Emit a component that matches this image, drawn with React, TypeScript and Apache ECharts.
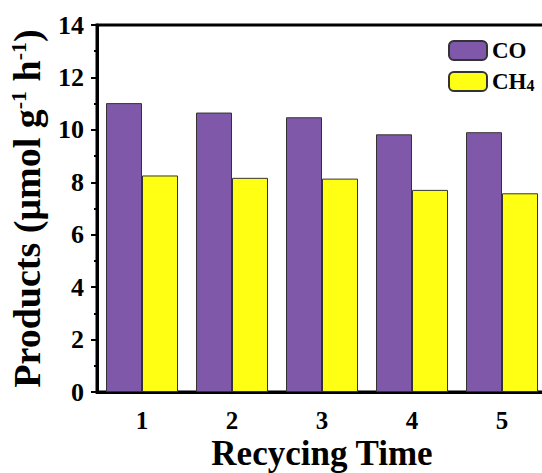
import React, { useEffect, useRef } from "react";
import * as echarts from "echarts";

const categories = ["1", "2", "3", "4", "5"];
const coValues = [11.02, 10.66, 10.48, 9.83, 9.91];
const ch4Values = [8.26, 8.17, 8.14, 7.71, 7.58];
const seriesNames = ["CO", "CH4"];

const FONT = "'Liberation Serif', 'Times New Roman', serif";

export default function App() {
  const ref = useRef<HTMLDivElement>(null);
  useEffect(() => {
    if (!ref.current) return;
    const chart = echarts.init(ref.current, null, { renderer: "svg" });
    chart.setOption({
      animation: false,
      textStyle: { fontFamily: FONT },
      grid: {
        left: 97,
        right: 13,
        top: 25,
        bottom: 81,
        containLabel: false,
        outerBoundsMode: "none",
        show: true,
        borderColor: "#000",
        borderWidth: 3,
      },
      legend: {
        orient: "vertical",
        left: 443,
        top: 34,
        itemWidth: 38,
        itemHeight: 19,
        itemGap: 8,
        data: seriesNames,
        formatter: (n: string) => (n === "CH4" ? "{a|CH}{s|4}" : "{a|CO}"),
        textStyle: {
          fontFamily: FONT,
          rich: {
            a: { fontSize: 23, lineHeight: 24, fontWeight: "bold", fontFamily: FONT, color: "#000" },
            s: { fontSize: 16, lineHeight: 14, fontWeight: "bold", fontFamily: FONT, color: "#000", verticalAlign: "bottom" },
          },
        },
      },
      xAxis: [
        {
          type: "category",
          data: categories,
          name: "Recycing Time",
          nameLocation: "middle",
          nameGap: 44,
          nameMoveOverlap: false,
          nameTextStyle: { fontSize: 35, fontWeight: "bold", color: "#000", fontFamily: FONT },
          axisLine: { lineStyle: { color: "#000", width: 3 } },
          axisTick: { alignWithLabel: true, length: 6, lineStyle: { width: 2, color: "#000" } },
          axisLabel: { fontSize: 25, fontWeight: "bold", color: "#000", margin: 16, fontFamily: FONT },
        },
        {
          type: "category",
          data: categories,
          position: "bottom",
          axisLine: { show: false },
          axisTick: { length: 3, lineStyle: { width: 2, color: "#000" } },
          axisLabel: { show: false },
        },
      ],
      yAxis: {
        type: "value",
        min: 0,
        max: 14,
        interval: 2,
        name: "{a|Products (μmol g}{s|-1}{a| h}{s|-1}{a|)}",
        nameLocation: "middle",
        nameGap: 50,
        nameMoveOverlap: false,
        nameRotate: 90,
        nameTextStyle: {
          fontFamily: FONT,
          rich: {
            a: { fontSize: 38, lineHeight: 40, fontWeight: "bold", color: "#000", fontFamily: FONT },
            s: { fontSize: 22, lineHeight: 22, fontWeight: "bold", color: "#000", fontFamily: FONT, verticalAlign: "top" },
          },
        },
        splitLine: { show: false },
        axisLine: { show: true, lineStyle: { color: "#000", width: 3 } },
        axisTick: { show: true, length: 6, lineStyle: { width: 2, color: "#000" } },
        minorTick: { show: true, splitNumber: 2, length: 3, lineStyle: { width: 2, color: "#000" } },
        axisLabel: { fontSize: 26, fontWeight: "bold", color: "#000", margin: 13, fontFamily: FONT },
      },
      series: [
        {
          name: seriesNames[0],
          type: "bar",
          data: coValues,
          barCategoryGap: "20%",
          barGap: "0%",
          itemStyle: { color: "#7F58A9", borderColor: "#333", borderWidth: 1 },
        },
        {
          name: seriesNames[1],
          type: "bar",
          data: ch4Values,
          barCategoryGap: "20%",
          barGap: "0%",
          itemStyle: { color: "#FFFF14", borderColor: "#333", borderWidth: 1 },
        },
      ],
    });
    return () => chart.dispose();
  }, []);
  return (
    <div
      style={{ position: "fixed", left: 0, top: 0, width: 542, height: 473, overflow: "hidden", background: "#fff" }}
    >
      <div ref={ref} style={{ width: 560, height: 473 }} />
    </div>
  );
}
